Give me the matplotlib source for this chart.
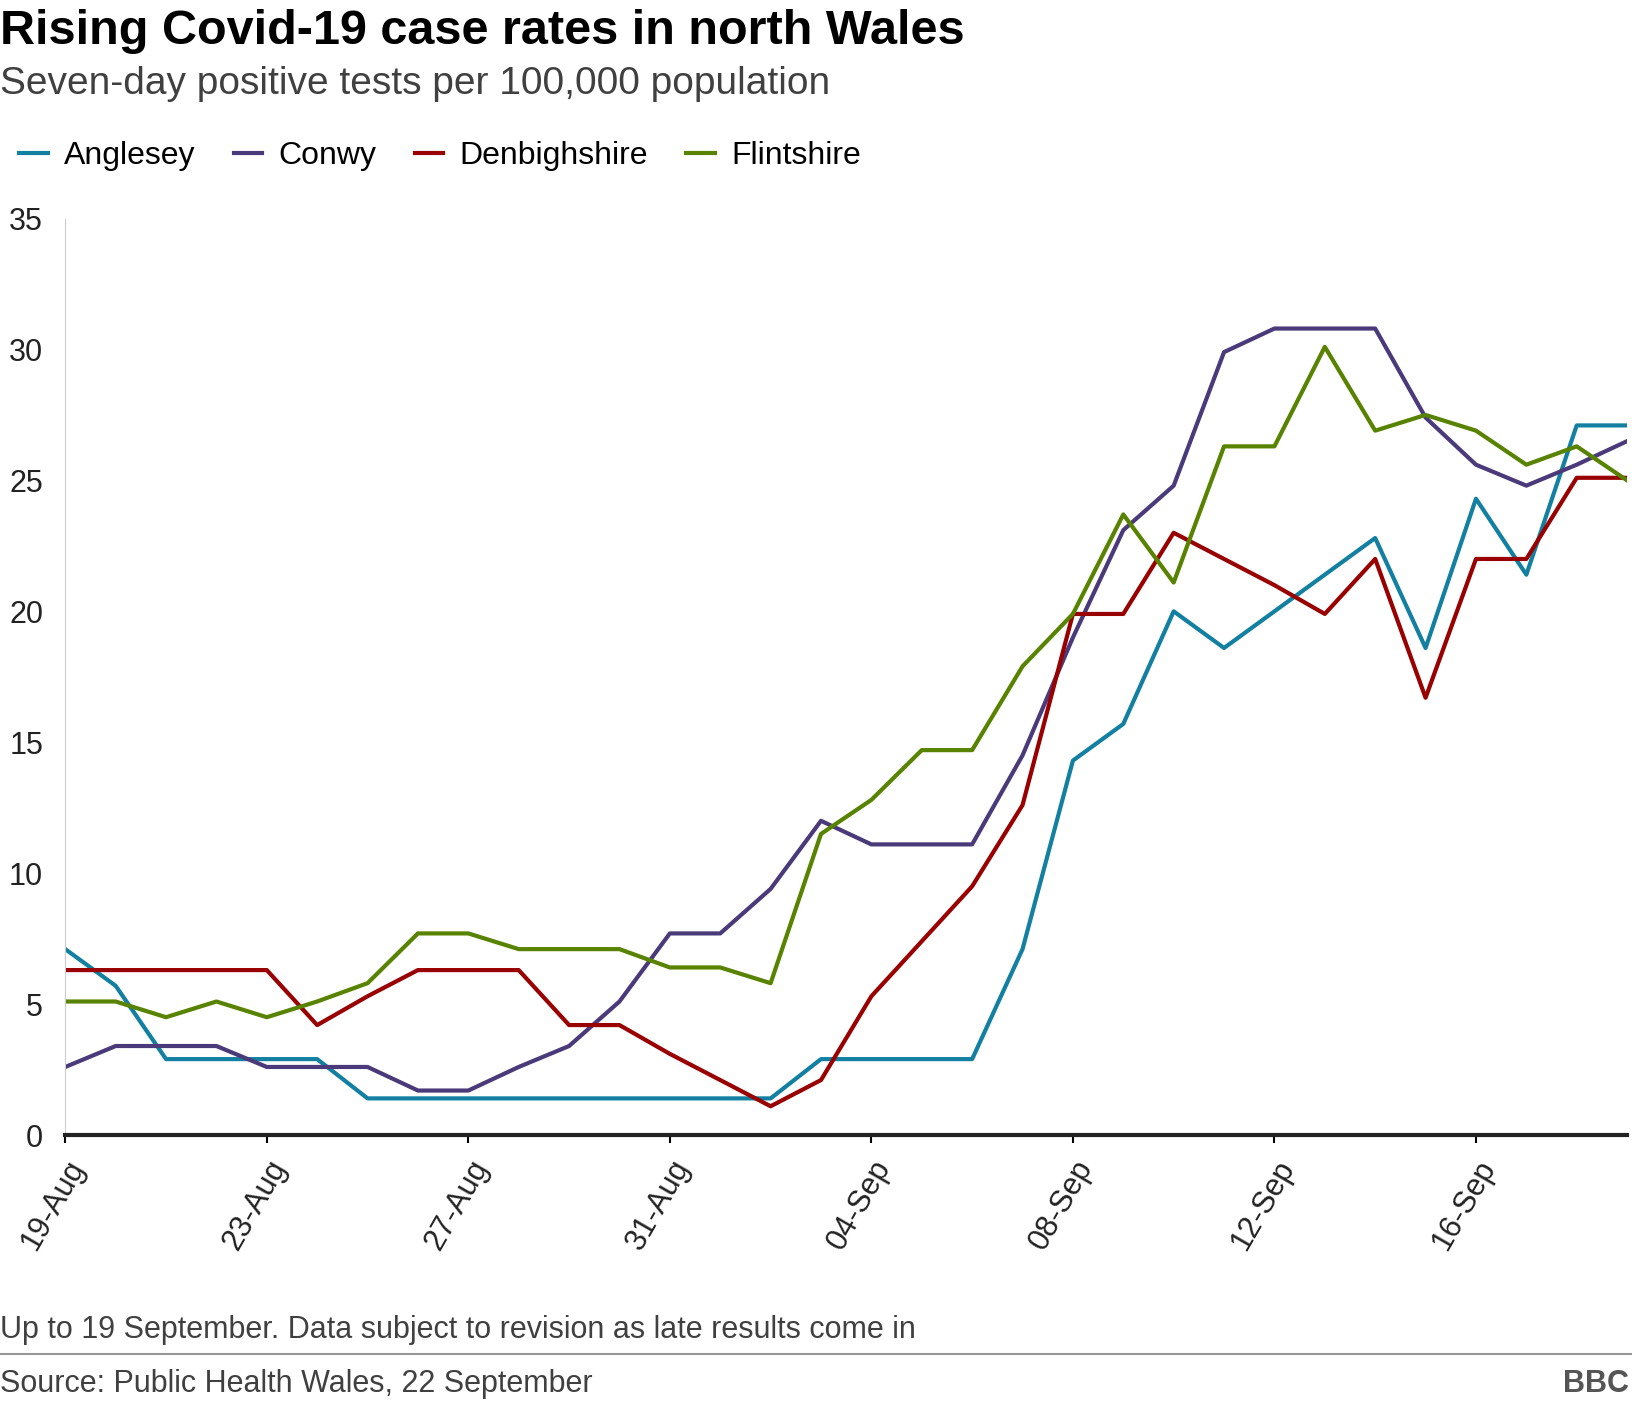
import numpy as np
import pandas as pd
from matplotlib import pyplot as plt

dates = pd.date_range('2020-08-19', '2020-09-19')
anglesey = [7.1, 5.7, 2.9, 2.9, 2.9, 2.9, 1.4, 1.4, 1.4, 1.4, 1.4, 1.4, 1.4, 1.4, 1.4, 2.9,
            2.9, 2.9, 2.9, 7.1, 14.3, 15.7, 20.0, 18.6, 20.0, 21.4, 22.8, 18.6, 24.3, 21.4, 27.1, 27.1]
conwy = [2.6, 3.4, 3.4, 3.4, 2.6, 2.6, 2.6, 1.7, 1.7, 2.6, 3.4, 5.1, 7.7, 7.7, 9.4, 12.0,
         11.1, 11.1, 11.1, 14.5, 19.0, 23.1, 24.8, 29.9, 30.8, 30.8, 30.8, 27.4, 25.6, 24.8, 25.6, 26.5]
denbighshire = [6.3, 6.3, 6.3, 6.3, 6.3, 4.2, 5.3, 6.3, 6.3, 6.3, 4.2, 4.2, 3.1, 2.1, 1.1, 2.1,
                5.3, 7.4, 9.5, 12.6, 19.9, 19.9, 23.0, 22.0, 21.0, 19.9, 22.0, 16.7, 22.0, 22.0, 25.1, 25.1]
flintshire = [5.1, 5.1, 4.5, 5.1, 4.5, 5.1, 5.8, 7.7, 7.7, 7.1, 7.1, 7.1, 6.4, 6.4, 5.8, 11.5,
              12.8, 14.7, 14.7, 17.9, 19.9, 23.7, 21.1, 26.3, 26.3, 30.1, 26.9, 27.5, 26.9, 25.6, 26.3, 25.0]

series = [('Anglesey', anglesey, '#1380a1'), ('Conwy', conwy, '#4b3a7a'),
          ('Denbighshire', denbighshire, '#990000'), ('Flintshire', flintshire, '#588300')]

plt.rcParams['font.family'] = ['Liberation Sans', 'DejaVu Sans']
fig = plt.figure(figsize=(16.32, 14.1), dpi=100)
ax = fig.add_axes([0.04, 0.195, 0.957, 0.65])

x = np.arange(len(dates))
for name, vals, col in series:
    ax.plot(x, vals, color=col, lw=3, label=name)

ax.set_xlim(0, len(dates) - 1)
ax.set_ylim(0, 35)
ax.set_yticks(range(0, 36, 5))
ticks = x[::4]
ax.set_xticks(ticks)
ax.set_xticklabels([dates[i].strftime('%d-%b') for i in ticks], rotation=60, ha='right',
                   rotation_mode='anchor', fontsize=22, color='#222222')
ax.tick_params(axis='y', labelsize=22, length=0, pad=16, labelcolor='#222222')
ax.tick_params(axis='x', length=6, width=1.5, pad=8)
for s in ['top', 'right']:
    ax.spines[s].set_visible(False)
ax.spines['left'].set_color('#cccccc')
ax.spines['bottom'].set_linewidth(3)
ax.spines['bottom'].set_color('#222222')

ax.legend(loc='lower left', bbox_to_anchor=(-0.048, 1.02), ncol=4, frameon=False, fontsize=23,
          handlelength=0.9, handletextpad=0.5, columnspacing=1.2)

fig.text(0.0, 0.962, 'Rising Covid-19 case rates in north Wales', fontsize=35, weight='bold', va='bottom')
fig.text(0.0, 0.928, 'Seven-day positive tests per 100,000 population', fontsize=28, color='#404040', va='bottom')
fig.text(0.0, 0.046, 'Up to 19 September. Data subject to revision as late results come in',
         fontsize=22, color='#404040', va='bottom')
fig.add_artist(plt.Line2D([0, 1], [0.04, 0.04], color='#999999', lw=1.5, transform=fig.transFigure))
fig.text(0.0, 0.008, 'Source: Public Health Wales, 22 September', fontsize=22, color='#404040', va='bottom')
fig.text(0.998, 0.008, 'BBC', fontsize=22, weight='bold', color='#555555', ha='right', va='bottom')

fig.savefig('out.png')
